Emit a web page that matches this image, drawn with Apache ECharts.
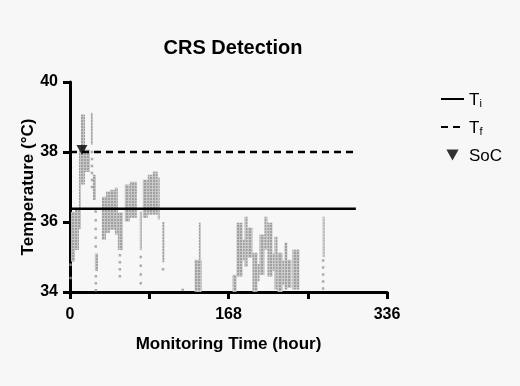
<!DOCTYPE html>
<html>
<head>
<meta charset="utf-8">
<script src="https://cdn.jsdelivr.net/npm/echarts@6/dist/echarts.min.js"></script>
<style>
  html, body { margin: 0; padding: 0; background: #f7f7f7; }
  #chart { width: 520px; height: 386px; }
</style>
</head>
<body>
<div id="chart"></div>
<script>
// dense blocks of readings: start hour, end hour, lowest and highest temperature
var blockStart = [1.1, 5.3, 9.5, 11.6, 15.9, 22.2, 24.3, 26.4, 33.8, 38.1, 42.3, 47.6, 50.7, 58.1, 63.4, 74.0, 77.2, 82.5, 87.7, 93.0, 98.0,
                  132.1, 136.6, 172.3, 176.5, 183.0, 185.0, 188.2, 193.4, 198.7, 200.8, 206.1, 209.3, 214.6, 216.7, 219.9, 225.2, 227.3, 230.4, 235.7, 267.8];
var blockEnd   = [5.3, 9.5, 11.6, 15.9, 21.1, 24.3, 27.5, 29.6, 38.1, 42.3, 47.6, 50.7, 56.0, 63.4, 70.8, 75.6, 82.5, 87.7, 93.0, 95.1, 99.3,
                  139.5, 137.8, 176.5, 182.9, 184.9, 188.2, 193.4, 198.7, 200.7, 206.1, 209.3, 214.6, 216.6, 219.9, 225.2, 227.2, 230.4, 234.7, 243.1, 268.9];
var blockLow   = [34.87, 35.2, 35.8, 37.07, 37.43, 38.21, 36.63, 34.6, 35.49, 35.69, 35.78, 35.64, 35.2, 36.01, 36.12, 35.2, 36.12, 36.21, 36.21, 36.07, 34.85,
                  34.0, 34.92, 34.0, 34.44, 34.9, 34.72, 34.98, 34.0, 34.3, 34.49, 35.21, 34.44, 34.6, 34.07, 34.0, 34.2, 34.07, 34.12, 34.07, 35.0];
var blockHigh  = [36.29, 36.35, 38.05, 39.07, 38.07, 39.12, 37.35, 35.1, 36.72, 36.87, 36.92, 36.98, 36.27, 37.07, 37.15, 36.3, 37.21, 37.35, 37.44, 37.27, 36.0,
                  34.92, 35.98, 34.49, 35.98, 35.5, 36.15, 35.84, 35.12, 34.8, 35.64, 36.15, 35.98, 35.1, 35.58, 35.12, 34.9, 35.41, 34.92, 35.21, 36.15];

// scattered single readings
var dotHour = [0.6, 0.6,
               23.3, 23.3, 23.3, 23.3, 23.3, 23.3,
               27.2, 27.2, 27.2, 27.2, 27.2, 27.4, 27.4, 27.4,
               52.9, 52.9, 52.9, 52.9,
               75.0, 75.0, 75.0, 75.0,
               98.6, 119.5,
               268.3, 268.3, 268.3, 268.3, 268.3];
var dotTemp = [34.78, 34.4,
               38.0, 37.8, 37.6, 37.4, 37.2, 37.0,
               36.3, 36.05, 35.8, 35.55, 35.3, 34.45, 34.25, 34.05,
               35.05, 34.85, 34.65, 34.45,
               35.0, 34.75, 34.5, 34.25,
               34.65, 34.06,
               34.9, 34.7, 34.5, 34.3, 34.1];

var tiHours = [0, 303];
var tiTemp = 36.38;
var tfHours = [0, 303];
var tfTemp = 38.0;
var socHour = 12.7;
var socTemp = 38.06;

var xTicks = [0, 168, 336];

var blocks = blockStart.map(function (s, i) { return [s, blockEnd[i], blockLow[i], blockHigh[i]]; });
var dots = dotHour.map(function (h, i) { return [h, dotTemp[i]]; });

// dotted texture so the blocks look like stacked readings
var tex = document.createElement('canvas');
tex.width = 3; tex.height = 3;
var tctx = tex.getContext('2d');
tctx.fillStyle = '#c6c6c6';
tctx.fillRect(0, 0, 3, 3);
tctx.fillStyle = '#a0a0a0';
tctx.fillRect(0, 0, 2, 2);
var dotPattern = { image: tex, repeat: 'repeat' };

var font = 'Liberation Sans, Arial, sans-serif';
var triangle = 'path://M0,0 L10,0 L5,9 Z';

var chart = echarts.init(document.getElementById('chart'));
chart.setOption({
  backgroundColor: '#f7f7f7',
  animation: false,
  title: {
    text: 'CRS Detection',
    left: 228, top: 33, textAlign: 'center',
    textStyle: { fontFamily: font, fontSize: 20, fontWeight: 'bold', color: '#000' }
  },
  legend: {
    orient: 'vertical',
    left: 435, top: 87,
    itemWidth: 23, itemHeight: 11, itemGap: 11,
    data: [
      { name: 'Ti', itemStyle: { opacity: 0 } },
      { name: 'Tf', itemStyle: { opacity: 0 } },
      { name: 'SoC' }
    ],
    formatter: function (name) {
      if (name === 'Ti') return '{a|T}{s|i}';
      if (name === 'Tf') return '{a|T}{s|f}';
      return '{a|SoC}';
    },
    textStyle: {
      fontFamily: font, color: '#000',
      rich: {
        a: { fontFamily: font, fontSize: 17, lineHeight: 20, verticalAlign: 'bottom', color: '#000' },
        s: { fontFamily: font, fontSize: 11, lineHeight: 8, verticalAlign: 'bottom', color: '#000' }
      }
    }
  },
  grid: { left: 70, right: 133, top: 82, bottom: 94 },
  xAxis: {
    type: 'value', min: 0, max: 336, interval: 84,
    name: 'Monitoring Time (hour)', nameLocation: 'middle', nameGap: 44,
    nameTextStyle: { fontFamily: font, fontSize: 17, fontWeight: 'bold', color: '#000' },
    axisLine: { lineStyle: { color: '#000', width: 3 } },
    axisTick: { length: 7, lineStyle: { color: '#000', width: 3 } },
    axisLabel: {
      margin: 15, fontFamily: font, fontSize: 16, fontWeight: 'bold', color: '#000',
      formatter: function (v) { return xTicks.indexOf(v) >= 0 ? String(v) : ''; }
    },
    splitLine: { show: false }
  },
  yAxis: {
    type: 'value', min: 34, max: 40, interval: 2,
    name: 'Temperature (°C)', nameLocation: 'middle', nameGap: 33, nameMoveOverlap: false,
    nameTextStyle: { fontFamily: font, fontSize: 17, fontWeight: 'bold', color: '#000' },
    axisLine: { show: true, lineStyle: { color: '#000', width: 3 } },
    axisTick: { show: true, length: 7, lineStyle: { color: '#000', width: 3 } },
    axisLabel: { margin: 12, fontFamily: font, fontSize: 16, fontWeight: 'bold', color: '#000' },
    splitLine: { show: false }
  },
  series: [
    {
      name: 'readings',
      type: 'custom',
      data: blocks,
      renderItem: function (params, api) {
        var a = api.coord([api.value(0), api.value(3)]);
        var b = api.coord([api.value(1), api.value(2)]);
        return {
          type: 'rect',
          shape: { x: a[0], y: a[1], width: Math.max(b[0] - a[0], 2), height: b[1] - a[1] },
          style: { fill: dotPattern }
        };
      },
      silent: true
    },
    {
      name: 'dots',
      type: 'scatter',
      data: dots,
      symbol: 'rect',
      symbolSize: 2.5,
      itemStyle: { color: '#999999' },
      silent: true
    },
    {
      name: 'Ti',
      type: 'line',
      data: tiHours.map(function (h) { return [h, tiTemp]; }),
      symbol: 'none',
      lineStyle: { color: '#000', width: 2.5 },
      itemStyle: { color: '#000' }
    },
    {
      name: 'Tf',
      type: 'line',
      data: tfHours.map(function (h) { return [h, tfTemp]; }),
      symbol: 'none',
      lineStyle: { color: '#000', width: 2.5, type: [7, 5] },
      itemStyle: { color: '#000' }
    },
    {
      name: 'SoC',
      type: 'scatter',
      data: [[socHour, socTemp]],
      symbol: triangle,
      symbolSize: [11, 10],
      itemStyle: { color: '#000' },
      z: 5
    }
  ]
});
</script>
</body>
</html>
